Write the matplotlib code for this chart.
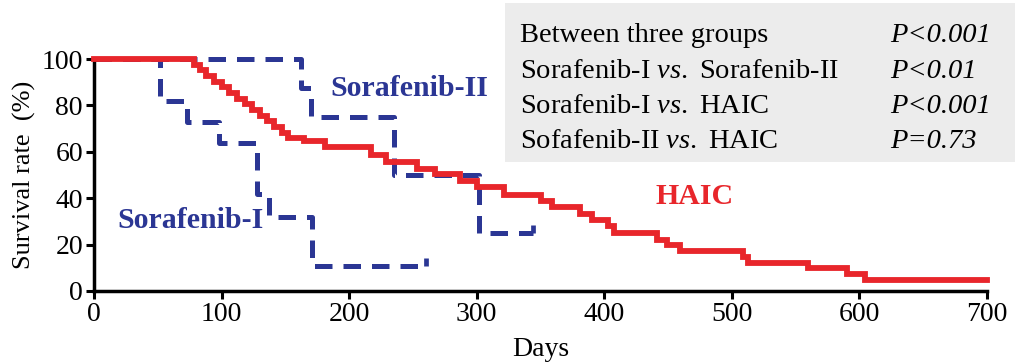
import matplotlib
matplotlib.use("Agg")
import matplotlib.pyplot as plt
from matplotlib.patches import Rectangle

plt.rcParams['font.family'] = ['Liberation Serif', 'DejaVu Serif']
plt.rcParams['mathtext.fontset'] = 'custom'
plt.rcParams['mathtext.rm'] = 'Liberation Serif'
plt.rcParams['mathtext.it'] = 'Liberation Serif:italic'

# ---- data (days, survival % after the step) ----
haic_days = [0, 78, 83, 88, 94, 100, 106, 112, 118, 124, 130, 136, 141, 147, 152,
             165, 181, 217, 229, 253, 267, 287, 300, 321, 350, 359, 381, 390, 403,
             408, 441, 449, 459, 509, 513, 560, 590, 604, 700]
haic_surv = [100, 97.6, 95.1, 92.7, 90.2, 87.8, 85.4, 82.9, 80.5, 78.0, 75.6, 73.2,
             70.7, 68.3, 65.9, 64.5, 62.0, 58.8, 55.5, 52.8, 50.3, 47.6, 45.0, 41.5,
             39.0, 36.0, 33.0, 30.5, 28.0, 25.0, 22.0, 19.8, 17.1, 14.6, 12.2, 9.8,
             7.3, 4.9, 4.9]

sor1_days = [0, 52, 73, 98, 128, 137, 171, 260]
sor1_surv = [100, 81.8, 72.7, 63.6, 42.0, 31.8, 10.6, 10.6]

sor2_days = [0, 162, 170, 235, 302, 344]
sor2_surv = [100, 87.5, 75.0, 50.0, 25.0, 25.0]

x_ticks = [0, 100, 200, 300, 400, 500, 600, 700]
y_ticks = [0, 20, 40, 60, 80, 100]

stats_labels = ["Between three groups",
                "Sorafenib-I $\\mathit{vs.}$ Sorafenib-II",
                "Sorafenib-I $\\mathit{vs.}$ HAIC",
                "Sofafenib-II $\\mathit{vs.}$ HAIC"]
stats_p = ["P<0.001", "P<0.01", "P<0.001", "P=0.73"]

RED = '#e8262b'
BLUE = '#2b3694'

W, H = 1028, 364
fig = plt.figure(figsize=(W / 100, H / 100), dpi=100)
ax = fig.add_axes([94 / W, 1 - 291 / H, (987 - 94) / W, (291 - 59) / H])

ax.step(sor1_days, sor1_surv, where='post', color=BLUE, lw=3.6, clip_on=False,
        linestyle=(0, (3.5, 2.2)), zorder=2)
ax.step(sor2_days, sor2_surv, where='post', color=BLUE, lw=3.6, clip_on=False,
        linestyle=(0, (3.5, 2.2)), zorder=2)
ax.plot([sor1_days[-1], sor2_days[-1]], [sor1_surv[-1], sor2_surv[-1]],
        linestyle='none', marker=2, markersize=6, markeredgewidth=3.4,
        color=BLUE, clip_on=False, zorder=2)
ax.step(haic_days, haic_surv, where='post', color=RED, lw=4.2, clip_on=False,
        solid_joinstyle='miter', zorder=3)

ax.set_xlim(0, 700)
ax.set_ylim(0, 100)
ax.set_xticks(x_ticks)
ax.set_yticks(y_ticks)
ax.tick_params(axis='both', direction='out', length=6, width=2.2, labelsize=20,
               pad=2)
for s in ['top', 'right']:
    ax.spines[s].set_visible(False)
for s in ['left', 'bottom']:
    ax.spines[s].set_linewidth(2.5)

ax.set_xlabel('Days', fontsize=20, labelpad=7)
ax.set_ylabel('Survival rate  (%)', fontsize=19, labelpad=4)

fig.text(330 / W, 1 - 88 / H, 'Sorafenib-II', color=BLUE, fontsize=21.5,
         fontweight='bold', va='center', ha='left')
fig.text(117 / W, 1 - 221 / H, 'Sorafenib-I', color=BLUE, fontsize=21.5,
         fontweight='bold', va='center', ha='left')
fig.text(655 / W, 1 - 197 / H, 'HAIC', color=RED, fontsize=21.5,
         fontweight='bold', va='center', ha='left')

# stats box
rect = Rectangle((505 / W, 1 - 162 / H), (1015 - 505) / W, (162 - 3) / H,
                 transform=fig.transFigure, facecolor='#ececec',
                 edgecolor='none', zorder=1)
fig.patches.append(rect)
baselines = [42, 78, 113, 148]
for lab, p, b in zip(stats_labels, stats_p, baselines):
    fig.text(520 / W, 1 - b / H, lab, fontsize=20.5, va='baseline', ha='left',
             zorder=2)
    fig.text(890 / W, 1 - b / H, p, fontsize=20.5, va='baseline', ha='left',
             style='italic', zorder=2)

fig.savefig('out.png', dpi=100)
